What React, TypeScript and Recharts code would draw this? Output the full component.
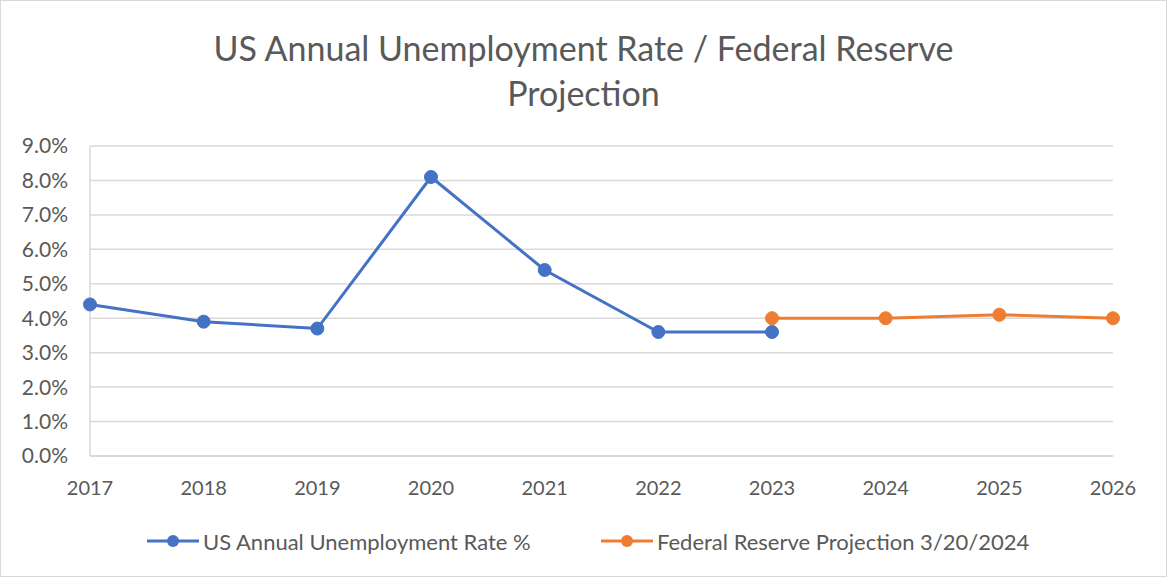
import { LineChart, Line, XAxis, YAxis, CartesianGrid } from "recharts";

const years = ["2017", "2018", "2019", "2020", "2021", "2022", "2023", "2024", "2025", "2026"];
const unemployment = [4.4, 3.9, 3.7, 8.1, 5.4, 3.6, 3.6, null, null, null];
const fedProjection = [null, null, null, null, null, null, 4.0, 4.0, 4.1, 4.0];
const yTicks = [0, 1, 2, 3, 4, 5, 6, 7, 8, 9];

const BLUE = "#4472C4";
const ORANGE = "#ED7D31";
const TEXT = "#595959";
const GRID = "#d9d9d9";
const FONT = "Lato, 'Open Sans', sans-serif";

const data = years.map((year, i) => ({
  year,
  rate: unemployment[i],
  fed: fedProjection[i],
}));

function LegendItem({ color, label, left }: { color: string; label: string; left: number }) {
  return (
    <div style={{ position: "absolute", left, top: 526, display: "flex", alignItems: "center", height: 28 }}>
      <svg width={54} height={24}>
        <line x1={0} y1={12} x2={52} y2={12} stroke={color} strokeWidth={3} />
        <circle cx={26} cy={12} r={6} fill={color} />
      </svg>
      <span style={{ fontSize: 22, color: TEXT, marginLeft: 2 }}>{label}</span>
    </div>
  );
}

export default function App() {
  return (
    <div
      style={{
        position: "relative",
        width: 1167,
        height: 577,
        boxSizing: "border-box",
        border: "1px solid #d9d9d9",
        background: "#fff",
        fontFamily: FONT,
      }}
    >
      <style>{`body{margin:0}`}</style>
      <div
        style={{
          position: "absolute",
          top: 24,
          left: 0,
          width: "100%",
          textAlign: "center",
          fontSize: 34,
          lineHeight: "45px",
          color: TEXT,
        }}
      >
        US Annual Unemployment Rate / Federal Reserve
        <br />
        Projection
      </div>
      <div style={{ position: "absolute", left: -1, top: -1 }}>
        <LineChart width={1167} height={577} data={data} margin={{ top: 146, right: 54, bottom: 81, left: 0 }}>
          <CartesianGrid horizontal vertical={false} stroke={GRID} strokeWidth={1.5} />
          <XAxis
            dataKey="year"
            height={40}
            tickLine={false}
            tickSize={0}
            tickMargin={25}
            axisLine={{ stroke: GRID, strokeWidth: 2 }}
            tick={{ fill: TEXT, fontSize: 20, fontFamily: FONT }}
            interval={0}
          />
          <YAxis
            width={90}
            domain={[0, 9]}
            ticks={yTicks}
            tickFormatter={(v) => `${v.toFixed(1)}%`}
            tickLine={false}
            tickSize={0}
            tickMargin={22}
            axisLine={{ stroke: GRID, strokeWidth: 1.5 }}
            tick={{ fill: TEXT, fontSize: 21, fontFamily: FONT }}
          />
          <Line
            dataKey="rate"
            stroke={BLUE}
            strokeWidth={3}
            dot={{ r: 6.5, fill: BLUE, stroke: BLUE, strokeWidth: 1 }}
            activeDot={false}
            isAnimationActive={false}
          />
          <Line
            dataKey="fed"
            stroke={ORANGE}
            strokeWidth={3}
            dot={{ r: 6.5, fill: ORANGE, stroke: ORANGE, strokeWidth: 1 }}
            activeDot={false}
            isAnimationActive={false}
          />
        </LineChart>
      </div>
      <LegendItem color={BLUE} label="US Annual Unemployment Rate %" left={146} />
      <LegendItem color={ORANGE} label="Federal Reserve Projection 3/20/2024" left={600} />
    </div>
  );
}
